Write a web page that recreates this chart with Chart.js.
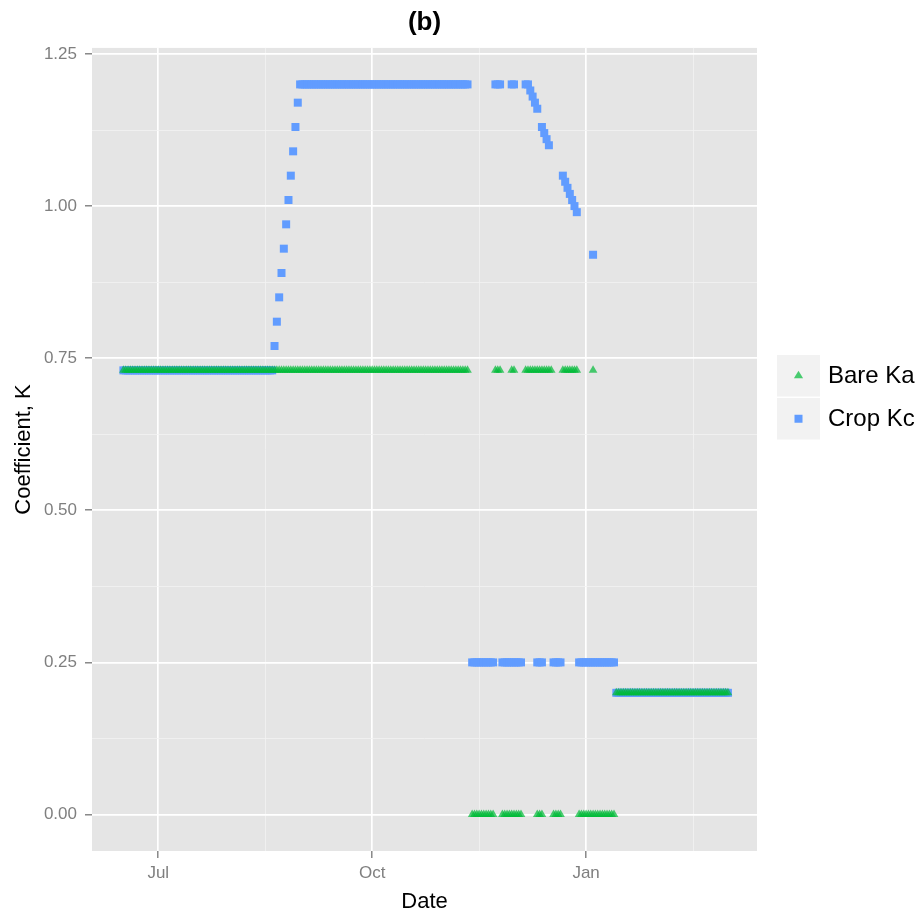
<!DOCTYPE html>
<html>
<head>
<meta charset="utf-8">
<title>Coefficient K</title>
<script src="https://cdn.jsdelivr.net/npm/chart.js@4.4.0/dist/chart.umd.min.js"></script>
<style>
    html, body { margin: 0; padding: 0; background: #fff; }
    #wrap { width: 924px; height: 916px; }
</style>
</head>
<body>
<div id="wrap"><canvas id="kChart" width="924" height="916"></canvas></div>
<script>
// x is days counted from 1 July; a run is [firstDay, lastDay, value], one reading a day
var seriesNames = ["Bare Ka", "Crop Kc"];

var bareRuns = [
    [-15, 133, 0.73],
    [135, 144, 0.00],
    [145, 147, 0.73],
    [148, 156, 0.00],
    [152, 153, 0.73],
    [158, 169, 0.73],
    [163, 165, 0.00],
    [170, 173, 0.00],
    [174, 180, 0.73],
    [181, 196, 0.00],
    [187, 187, 0.73],
    [197, 245, 0.20]
];

var cropRuns = [
    [-15, 49, 0.73],
    [61, 133, 1.20],
    [135, 144, 0.25],
    [145, 147, 1.20],
    [148, 156, 0.25],
    [152, 153, 1.20],
    [158, 159, 1.20],
    [163, 165, 0.25],
    [170, 173, 0.25],
    [181, 196, 0.25],
    [197, 245, 0.20]
];

// single days where Kc was changing
var cropDays = [50, 51, 52, 53, 54, 55, 56, 57, 58, 59, 60,
                160, 161, 162, 163, 165, 166, 167, 168,
                174, 175, 176, 177, 178, 179, 180, 187];
var cropKc   = [0.77, 0.81, 0.85, 0.89, 0.93, 0.97, 1.01, 1.05, 1.09, 1.13, 1.17,
                1.19, 1.18, 1.17, 1.16, 1.13, 1.12, 1.11, 1.10,
                1.05, 1.04, 1.03, 1.02, 1.01, 1.00, 0.99, 0.92];

var xTickDays = [0, 92, 184];
var xTickLabels = ["Jul", "Oct", "Jan"];
var xMinorDays = [46, 138, 230];
var yTicks = [0, 0.25, 0.5, 0.75, 1, 1.25];
var yMinor = [0.125, 0.375, 0.625, 0.875, 1.125];

var FONT = "'Liberation Sans', Arial, Helvetica, sans-serif";
var GREEN = "rgba(0,186,56,0.7)";
var BLUE = "#619CFF";

function expand(runs, days, vals) {
    var pts = [];
    for (var i = 0; i < runs.length; i++) {
        for (var d = runs[i][0]; d <= runs[i][1]; d++) {
            pts.push({x: d, y: runs[i][2]});
        }
    }
    if (days) {
        for (var k = 0; k < days.length; k++) pts.push({x: days[k], y: vals[k]});
    }
    return pts;
}

function setTicks(major, minor) {
    return function (scale) {
        var t = [];
        major.forEach(function (v) { t.push({value: v}); });
        minor.forEach(function (v) { t.push({value: v, minor: true}); });
        t.sort(function (a, b) { return a.value - b.value; });
        scale.ticks = t;
    };
}

function gridOpts() {
    return {
        color: function (c) { return c.tick && c.tick.minor ? "#f2f2f2" : "#ffffff"; },
        lineWidth: function (c) { return c.tick && c.tick.minor ? 0.8 : 1.7; },
        tickColor: function (c) { return c.tick && c.tick.minor ? "rgba(0,0,0,0)" : "#4d4d4d"; },
        tickLength: 7,
        tickWidth: 1
    };
}

// grey panel behind the grid, ggplot style
var panelBg = {
    id: "panelBg",
    beforeDraw: function (chart) {
        var a = chart.chartArea, ctx = chart.ctx;
        ctx.save();
        ctx.fillStyle = "#e5e5e5";
        ctx.fillRect(a.left, a.top, a.right - a.left, a.bottom - a.top);
        ctx.restore();
    }
};

// legend with grey key boxes on the right
var keyLegend = {
    id: "keyLegend",
    afterDraw: function (chart) {
        var ctx = chart.ctx;
        var left = 777, top = 355, w = 43, h = 41.5, gap = 1.5;
        ctx.save();
        for (var i = 0; i < seriesNames.length; i++) {
            var y0 = top + i * (h + gap);
            var cx = left + w / 2, cy = y0 + h / 2;
            ctx.fillStyle = "#f2f2f2";
            ctx.fillRect(left, y0, w, h);
            ctx.beginPath();
            if (i === 0) {
                ctx.fillStyle = GREEN;
                ctx.moveTo(cx, cy - 5);
                ctx.lineTo(cx + 4.6, cy + 2.6);
                ctx.lineTo(cx - 4.6, cy + 2.6);
                ctx.closePath();
            } else {
                ctx.fillStyle = BLUE;
                ctx.rect(cx - 4, cy - 4, 8, 8);
            }
            ctx.fill();
            ctx.fillStyle = "#000";
            ctx.font = "24px " + FONT;
            ctx.textBaseline = "middle";
            ctx.textAlign = "left";
            ctx.fillText(seriesNames[i], 828, cy + 1);
        }
        ctx.restore();
    }
};

var ctx = document.getElementById("kChart");
var kChart = new Chart(ctx, {
    type: "scatter",
    data: {
        datasets: [
            {
                label: seriesNames[0],
                data: expand(bareRuns),
                pointStyle: "triangle",
                pointRadius: 5,
                backgroundColor: GREEN,
                borderWidth: 0
            },
            {
                label: seriesNames[1],
                data: expand(cropRuns, cropDays, cropKc),
                pointStyle: "rect",
                pointRadius: 5.66,
                backgroundColor: BLUE,
                borderWidth: 0
            }
        ]
    },
    options: {
        responsive: false,
        animation: false,
        layout: {padding: {top: 0, right: 167, bottom: 0, left: 0}},
        plugins: {
            legend: {display: false},
            tooltip: {enabled: false},
            title: {
                display: true,
                text: "(b)",
                fullSize: false,
                color: "#000",
                font: {family: FONT, size: 26, weight: "bold", lineHeight: 1.15},
                padding: {top: 8, bottom: 10}
            }
        },
        scales: {
            x: {
                type: "linear",
                min: -28.5,
                max: 257.5,
                afterBuildTicks: setTicks(xTickDays, xMinorDays),
                afterFit: function (s) { s.height = 65; },
                grid: gridOpts(),
                border: {display: false},
                ticks: {
                    autoSkip: false,
                    maxRotation: 0,
                    padding: 5,
                    color: "#7f7f7f",
                    font: {family: FONT, size: 17},
                    callback: function (v) {
                        var i = xTickDays.indexOf(v);
                        return i < 0 ? "" : xTickLabels[i];
                    }
                },
                title: {
                    display: true,
                    text: "Date",
                    color: "#000",
                    font: {family: FONT, size: 22},
                    padding: {top: 0, bottom: 1}
                }
            },
            y: {
                min: -0.06,
                max: 1.26,
                afterBuildTicks: setTicks(yTicks, yMinor),
                afterFit: function (s) { s.width = 92; },
                grid: gridOpts(),
                border: {display: false},
                ticks: {
                    autoSkip: false,
                    padding: 8,
                    color: "#7f7f7f",
                    font: {family: FONT, size: 17},
                    callback: function (v) {
                        return yTicks.indexOf(v) < 0 ? "" : v.toFixed(2);
                    }
                },
                title: {
                    display: true,
                    text: "Coefficient, K",
                    color: "#000",
                    font: {family: FONT, size: 22},
                    padding: {top: 11, bottom: 0}
                }
            }
        }
    },
    plugins: [panelBg, keyLegend]
});
</script>
</body>
</html>
